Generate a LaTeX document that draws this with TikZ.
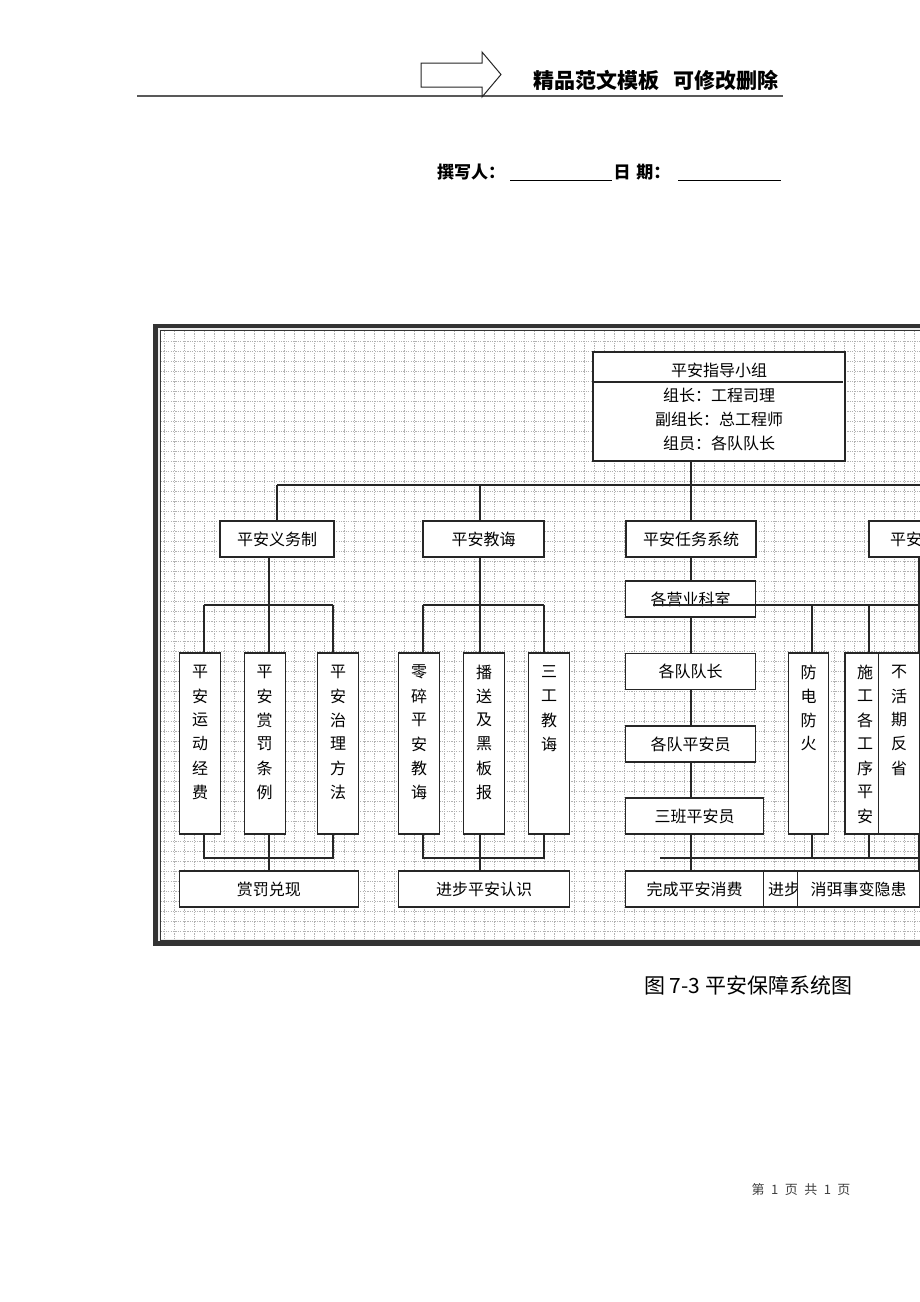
\documentclass[tikz,border=0pt]{standalone}
\usepackage{fontspec}
\newfontfamily\cjk{Noto Sans CJK SC}
\begin{document}
\begin{tikzpicture}[x=1pt,y=-1pt,
  box/.style={draw=black!85, line width=1.1pt, fill=white, inner sep=0pt, font=\cjk\fontsize{16}{18}\selectfont},
  ln/.style={draw=black!85, line width=1.1pt},
  vch/.style={inner sep=0pt, font=\cjk\fontsize{16}{18}\selectfont},
  gridln/.style={draw=black!30, line width=0.9pt, dash pattern=on 1.2pt off 1.2pt},
  hdr/.style={inner sep=0pt, font=\cjk\bfseries\fontsize{21}{24}\selectfont},
  sub/.style={inner sep=0pt, font=\cjk\bfseries\fontsize{17}{20}\selectfont}]
\clip (0,0) rectangle (920,1302);
\fill[white] (0,0) rectangle (920,1302);
\newcommand\colbox[5]{%
  \node[box,minimum width=#3,minimum height=181] (#1) at (#2,743.5) {};
  \foreach \c [count=\i] in {#5} \node[vch] (#1-\i) at (#4,{672+24*(\i-1)}) {\c};}
% ---------- header ----------
\draw[black!65, line width=2pt] (137,96) coordinate (hl) -- (783,96) coordinate (hr);
\draw[black!85, line width=1pt, fill=white] (421,63) -- (482,63) -- (482,52) -- (501,74.5) -- (482,97) -- (482,87) -- (421,87) -- cycle;
\node[hdr] (h1) at (596,80) {精品范文模板};
\node[hdr] (h2) at (726,80) {可修改删除};
\node[sub] (w1) at (471,172) {撰写人：};
\node[sub] (w2) at (642,172) {日\,\,期：};
\draw[black, line width=0.9pt] (510,180) coordinate (u1a) -- (612,180) coordinate (u1b);
\draw[black, line width=0.9pt] (678,180) coordinate (u2a) -- (781,180) coordinate (u2b);
% ---------- frame and grid ----------
\fill[black!8] (155,326) rectangle (1000,944);
\fill[white] (161,331) rectangle (1000,939);
\foreach \x in {164,174,...,924} \draw[gridln] (\x,331) -- (\x,939);
\foreach \y in {341,351,...,931} \draw[gridln] (161,\y) -- (1000,\y);
\draw[black!80, line width=4.5pt] (155.5,326) rectangle (1010,943.5);
\draw[black!80, line width=1pt] (160,330.5) rectangle (1010,940);
% ---------- coordinates ----------
\coordinate (bus0L) at (277,485); \coordinate (bus0R) at (920,485);
\coordinate (busAL) at (204,605); \coordinate (busAR) at (333,605);
\coordinate (busBL) at (423,605); \coordinate (busBR) at (544,605);
\coordinate (busCL) at (653,605); \coordinate (busCR) at (920,605);
\coordinate (botAL) at (204,858); \coordinate (botAR) at (333,858);
\coordinate (botBL) at (423,858); \coordinate (botBR) at (544,858);
\coordinate (botCL) at (660,858); \coordinate (botCR) at (920,858);
% ---------- background connectors ----------
\draw[ln] (bus0L) -- (bus0R);
\draw[ln] (691,461) coordinate (tzs) -- (691,485) coordinate (tzb);
\draw[ln] (bus0L) -- (277,521) coordinate (yws);
\draw[ln] (480,485) coordinate (jhb) -- (480,521) coordinate (jhs);
\draw[ln] (691,485) -- (691,871) coordinate (rwe);
\draw[ln] (269,557) coordinate (yw0) -- (269,871) coordinate (yw1);
\draw[ln] (480,557) coordinate (jh0) -- (480,871) coordinate (jh1);
\draw[ln] (busAL) -- (busAR);
\draw[ln] (busBL) -- (busBR);
\draw[ln] (busAL) -- (204,653); \draw[ln] (busAR) -- (333,653);
\draw[ln] (busBL) -- (423,653); \draw[ln] (busBR) -- (544,653);
\draw[ln] (204,834) -- (botAL) -- (botAR) -- (333,834);
\draw[ln] (423,834) -- (botBL) -- (botBR) -- (544,834);
\draw[ln] (botCL) -- (botCR);
\draw[ln] (812,605) -- (812,653); \draw[ln] (812,834) -- (812,858);
\draw[ln] (869,605) -- (869,653); \draw[ln] (869,834) -- (869,858);
\draw[ln] (919,557) coordinate (r0) -- (919,907) coordinate (r1);
% ---------- top box ----------
\node[box, minimum width=252, minimum height=109] (tz) at (719,406.5) {};
\draw[ln] (593,382) coordinate (dvl) -- (843,382) coordinate (dvr);
\node[vch] (tz1) at (719,370) {平安指导小组};
\node[vch] (tz2) at (719,395) {组长：工程司理};
\node[vch] (tz3) at (719,419) {副组长：总工程师};
\node[vch] (tz4) at (719,443) {组员：各队队长};
% ---------- level 2 ----------
\node[box, minimum width=114, minimum height=36] (yw) at (277,539) {平安义务制};
\node[box, minimum width=121, minimum height=36] (jh) at (483.5,539) {平安教诲};
\node[box, minimum width=130, minimum height=36] (rw) at (691,539) {平安任务系统};
\node[box, minimum width=140, minimum height=36] (p4) at (939,539) {};
\node[vch, anchor=west] (p4t) at (890,539) {平安};
% ---------- level 3 columns ----------
\colbox{a1}{200}{41}{200}{平,安,运,动,经,费}
\colbox{a2}{264.7}{41}{264.7}{平,安,赏,罚,条,例}
\colbox{a3}{338}{41}{338}{平,安,治,理,方,法}
\colbox{b1}{419}{41}{419}{零,碎,平,安,教,诲}
\colbox{b2}{484}{41}{484}{播,送,及,黑,板,报}
\colbox{b3}{549}{41}{549}{三,工,教,诲}
\colbox{c1}{808.5}{40.5}{808.5}{防,电,防,火}
\colbox{c2}{865}{40}{865}{施,工,各,工,序,平,安}
\colbox{c3}{899}{40.6}{899}{不,活,期,反,省}
% ---------- task column ----------
\node[box, minimum width=130, minimum height=36] (e1) at (690.7,599) {各营业科室};
\node[box, minimum width=130, minimum height=36] (e2) at (690.7,671.3) {各队队长};
\node[box, minimum width=130, minimum height=36] (e3) at (690.7,744) {各队平安员};
\node[box, minimum width=138, minimum height=36] (e4) at (694.7,816) {三班平安员};
\draw[ln] (busCL) -- (busCR);
% ---------- bottom ----------
\node[box, minimum width=179, minimum height=36] (d1) at (268.8,889) {赏罚兑现};
\node[box, minimum width=170.6, minimum height=36] (d2) at (484,889) {进步平安认识};
\node[box, minimum width=138, minimum height=36] (d3) at (694.7,889) {完成平安消费};
\node[box, minimum width=76, minimum height=36] (d4) at (801.7,889) {};
\node[vch, anchor=west] (d4t) at (768,889) {进步};
\node[box, minimum width=121.6, minimum height=36] (d5) at (858.5,889) {消弭事变隐患};
% ---------- caption and footer ----------
\node[inner sep=0pt, font=\cjk\fontsize{21}{24}\selectfont] (cap) at (748,985) {图 7-3 平安保障系统图};
\node[inner sep=0pt, font=\cjk\fontsize{13}{15}\selectfont, text=black!75] (ft) at (801,1190) {第\enspace 1\enspace 页\enspace 共\enspace 1\enspace 页};
\end{tikzpicture}
\end{document}
